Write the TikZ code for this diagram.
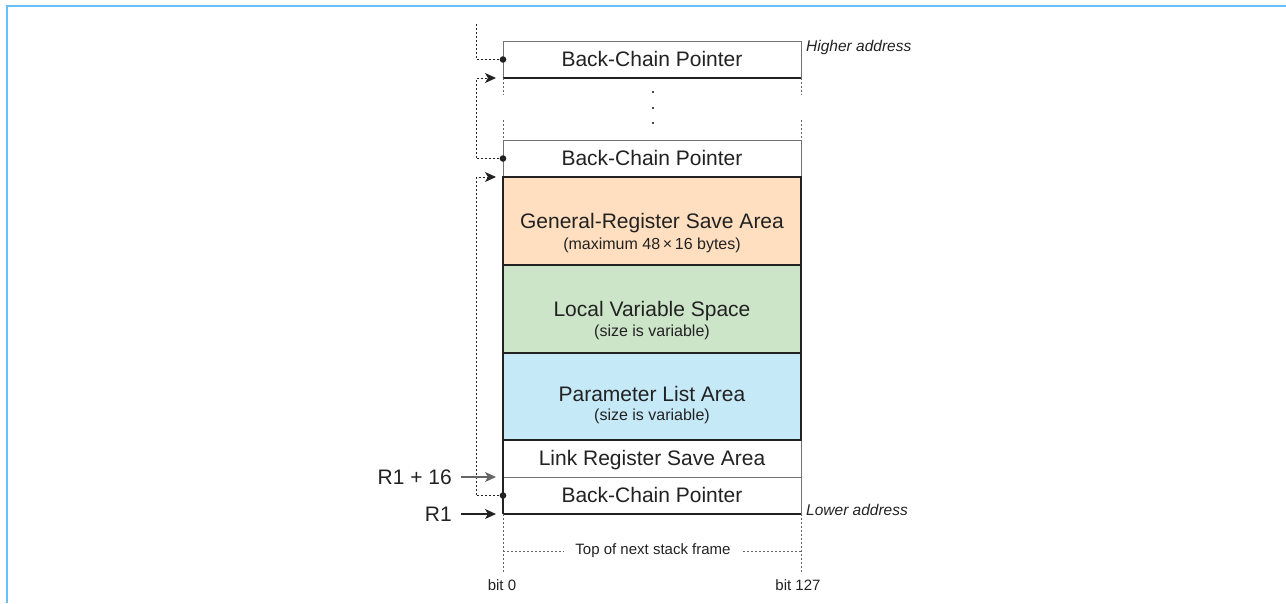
\documentclass[tikz,border=0pt]{standalone}
\usepackage{fontspec}
\setmainfont{Liberation Sans}
\usetikzlibrary{arrows.meta,calc}
\definecolor{frameblue}{HTML}{66BFFF}
\definecolor{peach}{HTML}{FFDFBF}
\definecolor{mint}{HTML}{CCE5C8}
\definecolor{skyb}{HTML}{C6E9F8}
\definecolor{ink}{HTML}{222222}
\newcommand{\bigsz}{\fontsize{21}{24}\selectfont}
\newcommand{\subsz}{\fontsize{16}{19}\selectfont}
\newcommand{\itsz}{\fontsize{15.5}{18}\selectfont}
\newcommand{\smsz}{\fontsize{15}{18}\selectfont}
\tikzset{
  wbox/.style={draw=black!55, line width=1pt, fill=white, minimum width=298pt, inner sep=0pt, outer sep=0pt, anchor=north west, font=\bigsz, text=ink, text height=15pt, text depth=2pt},
  cbox/.style={wbox, draw=ink, line width=2pt},
  chain/.style={draw=ink, line width=0.9pt, dash pattern=on 2pt off 2pt},
  guide/.style={draw=black!60, line width=0.9pt, dash pattern=on 2pt off 2pt},
  ptrhead/.style={-{Stealth[length=11pt,width=10pt,inset=3pt]}},
  lbl/.style={inner sep=0pt, text=ink},
  titl/.style={inner sep=0pt, text=ink, font=\bigsz, anchor=base},
  subl/.style={inner sep=0pt, text=ink, font=\subsz, anchor=base},
}
\begin{document}
\begin{tikzpicture}[x=1pt,y=-1pt]
\useasboundingbox (0,0) rectangle (1286,603);
\draw[frameblue, line width=2.6pt] (7,603) -- (7,6) -- (1286,6);

% boxes
\node[wbox, minimum height=37pt] (bcpA) at (503,41) {Back-Chain Pointer};
\node[wbox, minimum height=37pt] (bcpB) at (503,140) {Back-Chain Pointer};
\node[wbox, minimum height=37pt] (lr) at (503,440) {Link Register Save Area};
\node[wbox, minimum height=37pt] (bcpC) at (503,477) {Back-Chain Pointer};
\node[cbox, fill=peach, minimum height=88pt] (gr) at (503,177) {};
\node[cbox, fill=mint, minimum height=88pt] (lvs) at (503,265) {};
\node[cbox, fill=skyb, minimum height=87pt] (pla) at (503,353) {};
\node[titl] (grt) at ($(gr.north)+(0,51.5)$) {General-Register Save Area};
\node[subl] (grs) at ($(gr.north)+(0,72)$) {(maximum 48\,×\,16 bytes)};
\node[titl] (lvst) at ($(lvs.north)+(0,51.5)$) {Local Variable Space};
\node[subl] (lvss) at ($(lvs.north)+(0,71)$) {(size is variable)};
\node[titl] (plat) at ($(pla.north)+(0,48.5)$) {Parameter List Area};
\node[subl] (plas) at ($(pla.north)+(0,67.5)$) {(size is variable)};
\draw[ink, line width=1.6pt] (bcpC.south west) -- (bcpC.south east);
\draw[ink, line width=1.6pt] (bcpC.north west) -- (bcpC.south west);
\draw[ink, line width=1.6pt] (lr.north west) -- (lr.south west);
\draw[ink, line width=1.3pt] (bcpA.south west) -- (bcpA.south east);

% ellipsis dots
\foreach \yy [count=\i] in {92,108,123} {
  \coordinate (el\i) at (653,\yy);
  \fill[black!70] ($(el\i)+(-0.9,-0.9)$) rectangle ($(el\i)+(0.9,0.9)$);
}

% dotted side guides
\coordinate (gAl) at (503,95);  \coordinate (gBl) at (503,120);
\coordinate (gAr) at (801,95);  \coordinate (gBr) at (801,120);
\draw[guide] (bcpA.south west) -- (gAl);
\draw[guide] (gBl) -- (bcpB.north west);
\draw[guide] (bcpA.south east) -- (gAr);
\draw[guide] (gBr) -- (bcpB.north east);
\coordinate (endL) at (503,572); \coordinate (endR) at (801,572);
\draw[guide] (bcpC.south west) -- (endL);
\draw[guide] (bcpC.south east) -- (endR);

% back-chain pointers
\coordinate (topc) at (476,24);
\coordinate (tipA) at (496,78);
\coordinate (tipB) at (496,177);
\draw[chain] (topc) |- (bcpA.west);
\draw[chain, ptrhead] (bcpB.west) -| (476,78) -- (tipA);
\draw[chain, ptrhead] (bcpC.west) -| (476,177) -- (tipB);
\fill[ink] (bcpA.west) circle (3.3);
\fill[ink] (bcpB.west) circle (3.3);
\fill[ink] (bcpC.west) circle (3.3);

% address labels
\node[lbl, anchor=west, font=\itsz\itshape] (hi) at (806,47) {Higher address};
\node[lbl, anchor=west, font=\itsz\itshape] (lo) at (806,510) {Lower address};

% register pointers
\node[lbl, anchor=east, font=\bigsz] (r16) at (452,477) {R1 + 16};
\node[lbl, anchor=east, font=\bigsz] (r1) at (452,514) {R1};
\draw[black!60, line width=1.1pt, ptrhead] ([xshift=9pt]r16.east) -- ([xshift=-7pt]bcpC.north west);
\draw[ink, line width=1.1pt, ptrhead] ([xshift=9pt]r1.east) -- ([xshift=-7pt]bcpC.south west);

% bottom
\node[lbl, font=\smsz, inner xsep=12pt] (tn) at (653,551) {Top of next stack frame};
\coordinate (tnl) at (503,551); \coordinate (tnr) at (801,551);
\draw[guide] (tnl) -- (tn.west);
\draw[guide] (tn.east) -- (tnr);
\node[lbl, font=\smsz] (b0) at (502,585) {bit 0};
\node[lbl, font=\smsz] (b127) at (798,585) {bit 127};
\end{tikzpicture}
\end{document}
